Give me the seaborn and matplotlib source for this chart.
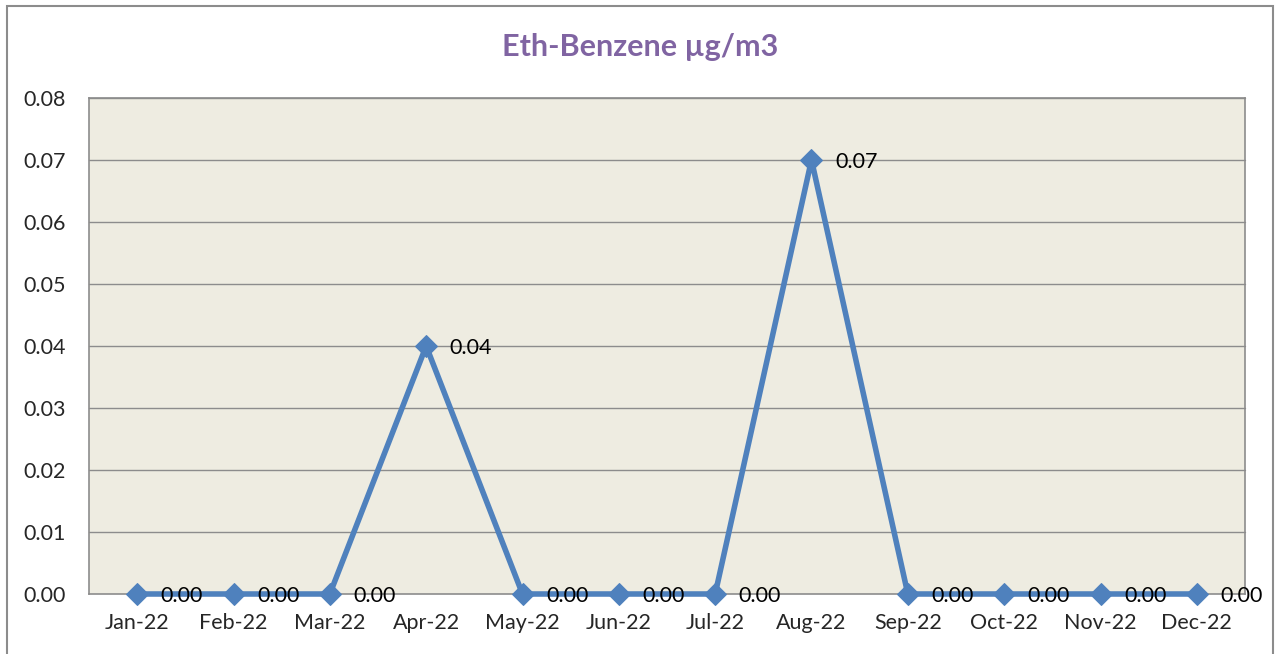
import seaborn as sns
import matplotlib.pyplot as plt
import pandas as pd
from matplotlib.patches import Rectangle

months = ['Jan-22', 'Feb-22', 'Mar-22', 'Apr-22', 'May-22', 'Jun-22',
          'Jul-22', 'Aug-22', 'Sep-22', 'Oct-22', 'Nov-22', 'Dec-22']
values = [0.00, 0.00, 0.00, 0.04, 0.00, 0.00, 0.00, 0.07, 0.00, 0.00, 0.00, 0.00]
yticks = [0.00, 0.01, 0.02, 0.03, 0.04, 0.05, 0.06, 0.07, 0.08]

df = pd.DataFrame({'Month': months, 'Value': values, 'pos': range(len(months))})

sns.set_theme(style="white")
plt.rcParams['font.family'] = ['Lato', 'DejaVu Sans']

fig = plt.figure(figsize=(12.8, 6.54), dpi=100)
ax = fig.add_axes([89 / 1280, 1 - 594 / 654, (1245 - 89) / 1280, (594 - 98) / 654])
ax.set_facecolor('#EEECE1')

# outer chart border
fig.patches.append(Rectangle((7 / 1280, -0.05), 1266 / 1280, 1.05 - 6 / 654,
                             transform=fig.transFigure, fill=False,
                             edgecolor='#8c8c8c', linewidth=1.5))

for y in yticks[1:]:
    ax.axhline(y, color='#8c8c8c', linewidth=1, zorder=1)

sns.lineplot(data=df, x='pos', y='Value', ax=ax, color='#4F81BD', linewidth=4,
             marker='D', markersize=11, markeredgecolor='#4F81BD', zorder=3)
# keep the diamonds on the zero line whole
for line in ax.lines:
    line.set_clip_on(False)

for i, v in enumerate(values):
    ax.annotate(f'{v:.2f}', (i, v), xytext=(17, -1.5), textcoords='offset points',
                ha='left', va='center', fontsize=15.5, color='black', zorder=4,
                annotation_clip=False)

ax.set_xlim(-0.5, 11.5)
ax.set_ylim(0, 0.08)
ax.set_xticks(range(len(months)))
ax.set_xticklabels(months, fontsize=15.5)
ax.set_yticks(yticks)
ax.set_yticklabels([f'{t:.2f}' for t in yticks], fontsize=15.5)
ax.tick_params(axis='x', length=0, pad=14)
ax.tick_params(axis='y', length=0, pad=17)
ax.set_xlabel('')
ax.set_ylabel('')
for side in ['top', 'right', 'left', 'bottom']:
    ax.spines[side].set_color('#8c8c8c')
    ax.spines[side].set_linewidth(1.2)

fig.text(0.5, 1 - 47 / 654, 'Eth-Benzene µg/m3', ha='center', va='center',
         fontsize=22, fontweight='bold', color='#8064A2')

fig.savefig('out.png', dpi=100, facecolor='white')
